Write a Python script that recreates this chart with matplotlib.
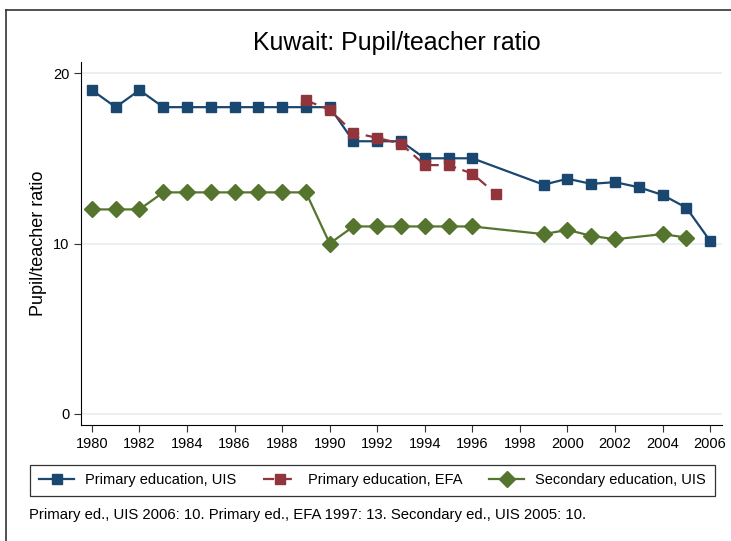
import numpy as np
import matplotlib
matplotlib.use("Agg")
import matplotlib.pyplot as plt

plt.rcParams['font.family'] = ['Liberation Sans', 'DejaVu Sans']

# data
years_uis = [1980, 1981, 1982, 1983, 1984, 1985, 1986, 1987, 1988, 1989, 1990,
             1991, 1992, 1993, 1994, 1995, 1996, 1999, 2000, 2001, 2002, 2003,
             2004, 2005, 2006]
primary_uis = [19, 18, 19, 18, 18, 18, 18, 18, 18, 18, 18,
               16, 16, 16, 15, 15, 15, 13.45, 13.8, 13.5, 13.6, 13.3,
               12.85, 12.1, 10.15]

years_efa = [1989, 1990, 1991, 1992, 1993, 1994, 1995, 1996, 1997]
primary_efa = [18.4, 17.85, 16.5, 16.2, 15.85, 14.6, 14.6, 14.1, 12.9]

years_sec = [1980, 1981, 1982, 1983, 1984, 1985, 1986, 1987, 1988, 1989, 1990,
             1991, 1992, 1993, 1994, 1995, 1996, 1999, 2000, 2001, 2002, 2004, 2005]
secondary_uis = [12, 12, 12, 13, 13, 13, 13, 13, 13, 13, 10,
                 11, 11, 11, 11, 11, 11, 10.55, 10.8, 10.45, 10.25, 10.55, 10.35]

x_ticks = list(range(1980, 2007, 2))
y_ticks = [0, 10, 20]

note = "Primary ed., UIS 2006: 10. Primary ed., EFA 1997: 13. Secondary ed., UIS 2005: 10."

blue = '#1a476f'
red = '#90353b'
green = '#55752f'

fig = plt.figure(figsize=(7.31, 5.41), dpi=100)
ax = fig.add_axes([0.1108, 0.2144, 0.8769, 0.671])

for y in y_ticks:
    ax.axhline(y, color='#e6eef0', lw=1.2, zorder=0)

ax.plot(years_uis, primary_uis, color=blue, lw=1.6, marker='s', ms=7,
        label='Primary education, UIS', zorder=3)
ax.plot(years_efa, primary_efa, color=red, lw=1.6, ls=(0, (5, 3)), marker='s', ms=7,
        label='Primary education, EFA', zorder=4)
ax.plot(years_sec, secondary_uis, color=green, lw=1.6, marker='D', ms=8,
        label='Secondary education, UIS', zorder=3)

ax.set_xlim(1979.54, 2006.5)
ax.set_ylim(-0.65, 20.65)
ax.set_xticks(x_ticks)
ax.set_yticks(y_ticks)
ax.tick_params(labelsize=10.5, length=5, width=0.8, color='#333333')
ax.spines['top'].set_visible(False)
ax.spines['right'].set_visible(False)
ax.spines['left'].set_linewidth(0.8)
ax.spines['bottom'].set_linewidth(0.8)
ax.set_ylabel('Pupil/teacher ratio', fontsize=13)

fig.text(0.543, 0.9205, 'Kuwait: Pupil/teacher ratio', fontsize=17.9,
         ha='center', va='center')

leg = fig.legend(loc='center', bbox_to_anchor=(0.5096, 0.112), ncol=3, fontsize=10.5,
                 frameon=True, fancybox=False, edgecolor='black', handlelength=2.4,
                 handletextpad=0.75, columnspacing=1.8, borderpad=0.6)
leg.get_frame().set_linewidth(0.9)

fig.text(0.039, 0.048, note, fontsize=10.7, ha='left', va='center')

# outer frame (top and left edges visible in reference)
fig.add_artist(plt.Line2D([0.008, 1.0], [0.981, 0.981], color='#333333', lw=1.2,
                          transform=fig.transFigure))
fig.add_artist(plt.Line2D([0.008, 0.008], [0.0, 0.981], color='#333333', lw=1.2,
                          transform=fig.transFigure))

fig.savefig('out.png', dpi=100)
